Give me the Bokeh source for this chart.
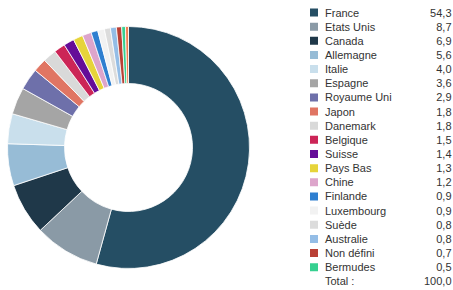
import numpy as np
from bokeh.plotting import figure
from bokeh.models import Range1d, ColumnDataSource
from bokeh.core.properties import value
from bokeh.embed import file_html
from bokeh.resources import INLINE

countries = ["France", "Etats Unis", "Canada", "Allemagne", "Italie", "Espagne",
             "Royaume Uni", "Japon", "Danemark", "Belgique", "Suisse", "Pays Bas",
             "Chine", "Finlande", "Luxembourg", "Suède", "Australie", "Non défini",
             "Bermudes"]
shares = [54.3, 8.7, 6.9, 5.6, 4.0, 3.6, 2.9, 1.8, 1.8, 1.5, 1.4, 1.3,
          1.2, 0.9, 0.9, 0.8, 0.8, 0.7, 0.5]
share_labels = ["54,3", "8,7", "6,9", "5,6", "4,0", "3,6", "2,9", "1,8", "1,8", "1,5",
                "1,4", "1,3", "1,2", "0,9", "0,9", "0,8", "0,8", "0,7", "0,5"]
colors = ["#254e64", "#8a9aa6", "#1f3849", "#97bcd6", "#c9dfec", "#a5a5a5",
          "#6e70aa", "#e07563", "#d9d9d9", "#cc2557", "#650d98", "#e6d43a",
          "#dda5cb", "#2f7fd0", "#f2f2f2", "#dcdcdc", "#94bde6", "#b94035",
          "#36d090"]
# unlabeled remainder slice (visible in the ring, not in legend)
other_share = 0.4
other_color = "#f08050"
total_label = "Total :"
total_value = "100,0"

W, H = 453, 290
p = figure(width=W, height=H, output_backend="svg", toolbar_location=None,
           x_range=Range1d(0, W), y_range=Range1d(0, H), min_border=0)
p.axis.visible = False
p.grid.visible = False
p.outline_line_color = None

# donut
all_vals = np.array(shares + [other_share])
all_cols = colors + [other_color]
frac = all_vals / all_vals.sum()
cum = np.concatenate([[0], np.cumsum(frac)])
start = np.pi / 2 - cum[:-1] * 2 * np.pi
end = np.pi / 2 - cum[1:] * 2 * np.pi
cx, cy = 128, H - 147
src = ColumnDataSource(dict(start=start, end=end, color=all_cols))
p.annular_wedge(x=cx, y=cy, inner_radius=64, outer_radius=121,
                start_angle="start", end_angle="end", direction="clock",
                fill_color="color", line_color="white", line_width=0.8, source=src)

# legend
n = len(countries)
y0 = H - 12.0
step = 14.15
ys = [y0 - i * step for i in range(n)]
lsrc = ColumnDataSource(dict(y=ys, name=countries, val=share_labels, color=colors))
p.scatter(x=313.5, y="y", marker="square", size=8, fill_color="color",
          line_color=None, source=lsrc)
font = value("Liberation Sans")
p.text(x=324.5, y="y", text="name", text_font=font, text_font_size="11px",
       text_color="#333333", text_align="left", text_baseline="middle", source=lsrc)
p.text(x=451, y="y", text="val", text_font=font, text_font_size="11px",
       text_color="#333333", text_align="right", text_baseline="middle", source=lsrc)
yt = y0 - n * step
p.text(x=[324.5], y=[yt], text=[total_label], text_font=font, text_font_size="11px",
       text_color="#333333", text_align="left", text_baseline="middle")
p.text(x=[451], y=[yt], text=[total_value], text_font=font, text_font_size="11px",
       text_color="#333333", text_align="right", text_baseline="middle")

open("out.html", "w").write(file_html(p, INLINE))
